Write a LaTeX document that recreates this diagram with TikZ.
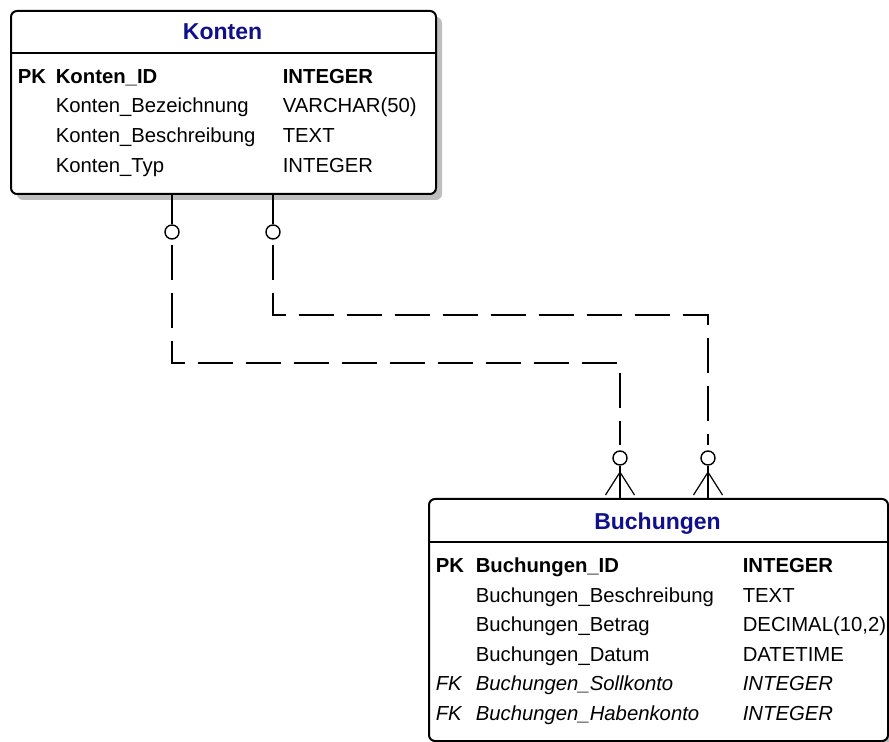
\documentclass[tikz,border=0pt]{standalone}
\usepackage{fontspec}
\setmainfont{Liberation Sans}
\usepackage{tikz}
\usetikzlibrary{matrix, shadows, calc}
\definecolor{titleblue}{RGB}{16,16,140}
\newcommand{\bodyfont}{\fontsize{10.15pt}{12pt}\selectfont}
\newcommand{\headfont}{\fontsize{11.5pt}{13pt}\selectfont\bfseries}
\tikzset{>=latex,
  tablebox/.style={draw, line width=1pt, rounded corners=3pt, fill=white, inner sep=0pt, anchor=north west,
    drop shadow={shadow xshift=3pt, shadow yshift=-3pt, fill=black!25, opacity=1}},
  tabletitle/.style={font=\headfont, text=titleblue, anchor=base, inner sep=0pt},
  fields/.style={matrix of nodes, anchor=north west, inner sep=0pt, row sep=4.8pt, column sep=0pt,
    nodes={inner sep=0pt, text height=7.5pt, text depth=2.5pt, align=left, anchor=base west, font=\bodyfont}},
  optional/.style={draw, circle, line width=0.7pt, minimum size=7pt, inner sep=0pt, fill=white},
  relline/.style={line width=1pt},
  reldash/.style={line width=1pt, dash pattern=on 17.5pt off 6.5pt, shorten <=2.5pt, shorten >=2.5pt},
  crowfoot/.style={line width=0.6pt}
}

\begin{document}
\begin{tikzpicture}[x=0.5pt, y=-0.5pt]
\useasboundingbox (0,0) rectangle (889,742);

\node[tablebox, minimum width=212.5pt, minimum height=91.5pt] (kontenBox) at (10,10) {};
\node[tablebox, minimum width=229.5pt, minimum height=121pt] (buchungenBox) at (428,498) {};
\draw[relline] (kontenBox.west |- 0,53) -- (kontenBox.east |- 0,53);
\draw[relline] (buchungenBox.west |- 0,542) -- (buchungenBox.east |- 0,542);

\node[tabletitle] (kontenTitle) at (222.5,40) {Konten};
\node[tabletitle] (buchungenTitle) at (657.5,530) {Buchungen};

\matrix (konten) [fields, column 1/.style={text width=19pt}, column 2/.style={text width=113.5pt}] at (17,68)
{
\textbf{PK} & \textbf{Konten\_ID} & \textbf{INTEGER} \\
 & Konten\_Bezeichnung & VARCHAR(50) \\
 & Konten\_Beschreibung & TEXT \\
 & Konten\_Typ & INTEGER \\
};

\matrix (buchungen) [fields, column 1/.style={text width=20pt}, column 2/.style={text width=133.5pt}] at (435,557)
{
\textbf{PK} & \textbf{Buchungen\_ID} & \textbf{INTEGER} \\
 & Buchungen\_Beschreibung & TEXT \\
 & Buchungen\_Betrag & DECIMAL(10,2) \\
 & Buchungen\_Datum & DATETIME \\
\textit{FK} & \textit{Buchungen\_Sollkonto} & \textit{INTEGER} \\
\textit{FK} & \textit{Buchungen\_Habenkonto} & \textit{INTEGER} \\
};

\node[optional] (sollK) at (172,232) {};
\node[optional] (habenK) at (273,232) {};
\node[optional] (sollB) at (620,458) {};
\node[optional] (habenB) at (708,458) {};
\coordinate (sollBase) at (sollB |- buchungenBox.north);
\coordinate (habenBase) at (habenB |- buchungenBox.north);

\draw[relline] (kontenBox.south -| sollK) -- (sollK);
\draw[relline] (kontenBox.south -| habenK) -- (habenK);
\draw[reldash] (sollK) -- ++(0,131) -| (sollB);
\draw[reldash] (habenK) -- ++(0,83) -| (habenB);

\draw[relline] (sollB) -- (sollBase);
\draw[relline] (habenB) -- (habenBase);
\draw[crowfoot] ([xshift=-7.25pt,yshift=1.5pt]sollBase) -- ([yshift=-3.25pt]sollB.south) -- ([xshift=7.25pt,yshift=1.5pt]sollBase);
\draw[crowfoot] ([xshift=-7.25pt,yshift=1.5pt]habenBase) -- ([yshift=-3.25pt]habenB.south) -- ([xshift=7.25pt,yshift=1.5pt]habenBase);
\end{tikzpicture}
\end{document}
